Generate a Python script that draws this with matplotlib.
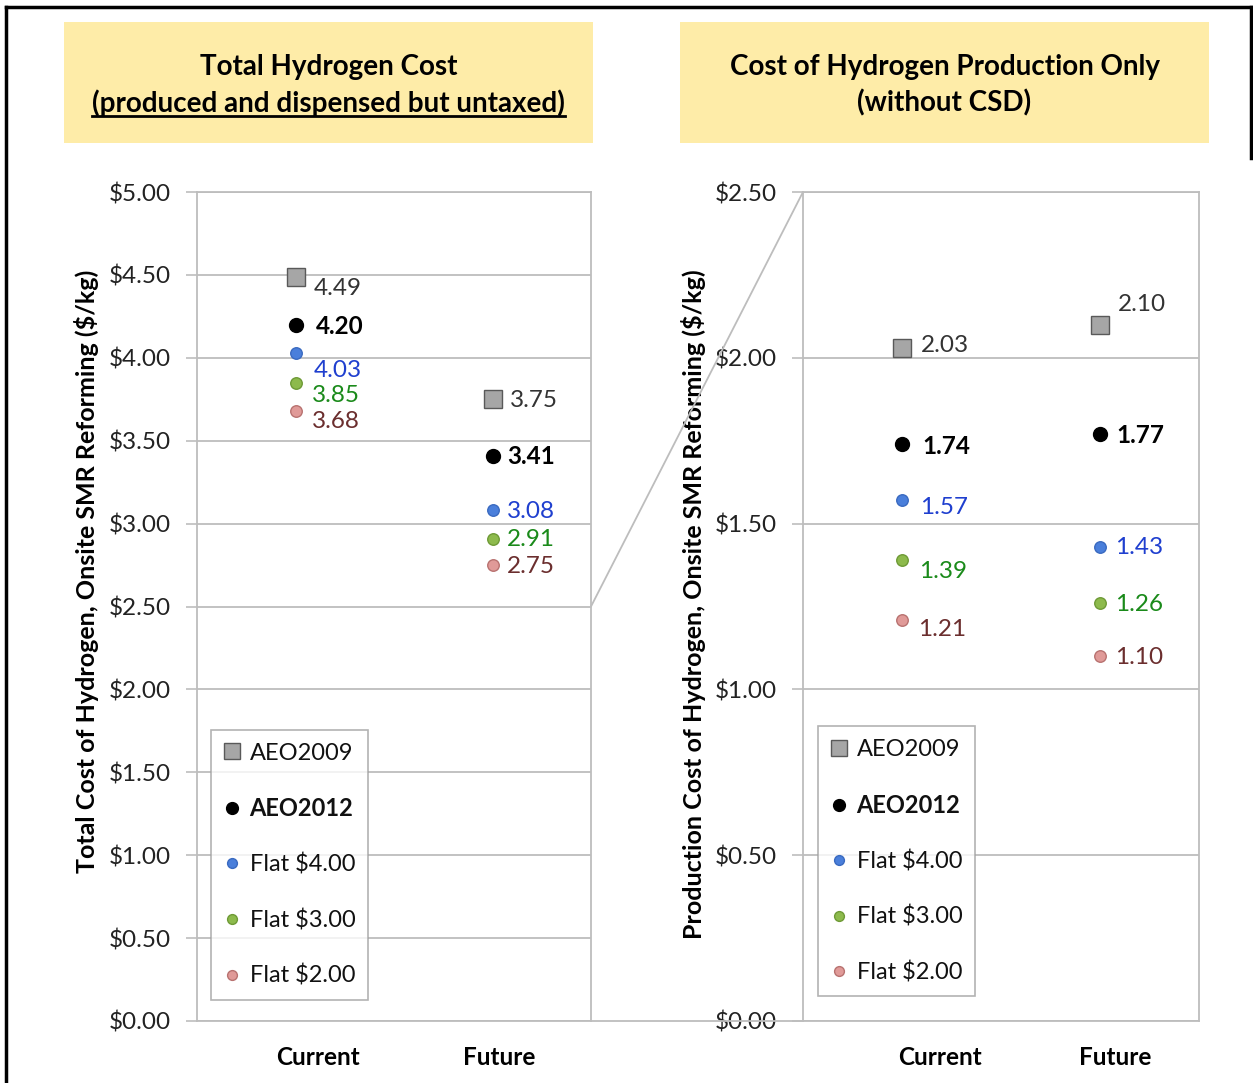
import matplotlib
matplotlib.use('Agg')
from matplotlib import pyplot as plt
from matplotlib.patches import Rectangle, ConnectionPatch
from matplotlib.lines import Line2D

plt.rcParams['font.family'] = ['Lato', 'DejaVu Sans']

# ---- data ----
categories = ['Current', 'Future']
series = ['AEO2009', 'AEO2012', 'Flat $4.00', 'Flat $3.00', 'Flat $2.00']

total_aeo2009 = [4.49, 3.75]
total_aeo2012 = [4.20, 3.41]
total_flat4 = [4.03, 3.08]
total_flat3 = [3.85, 2.91]
total_flat2 = [3.68, 2.75]

prod_aeo2009 = [2.03, 2.10]
prod_aeo2012 = [1.74, 1.77]
prod_flat4 = [1.57, 1.43]
prod_flat3 = [1.39, 1.26]
prod_flat2 = [1.21, 1.10]

total_values = [total_aeo2009, total_aeo2012, total_flat4, total_flat3, total_flat2]
prod_values = [prod_aeo2009, prod_aeo2012, prod_flat4, prod_flat3, prod_flat2]

# ---- styles ----
markers = ['s', 'o', 'o', 'o', 'o']
msizes = [13, 10, 8.3, 8.3, 8.3]
face_colors = ['#A6A6A6', '#000000', '#4A7FDB', '#8DBA4C', '#E09A98']
edge_colors = ['#595959', '#000000', '#3A6AC0', '#6E9A36', '#B87270']
label_colors = ['#333333', '#000000', '#1F3FCF', '#1A8A1A', '#6B2E2E']
label_weights = ['normal', 'bold', 'normal', 'normal', 'normal']
grid_color = '#BDBDBD'

# label offsets in pixels (dx, dy) per series per category
total_offsets = [[(18, -12), (17, -1)], [(20, -2), (15, -1)], [(18, -18), (14, -1)],
                 [(16, -13), (14, -1)], [(16, -11), (14, -1)]]
prod_offsets = [[(19, 2), (18, 20)], [(20, -2), (16, -1)], [(18, -7), (15, -1)],
                [(17, -11), (15, -1)], [(16, -10), (15, -1)]]

W, H = 1253, 1083
fig = plt.figure(figsize=(W / 100, H / 100), dpi=100)

# outer frame
fig.add_artist(Line2D([6 / W, 1], [1 - 7 / H, 1 - 7 / H], color='black', lw=2.5))
fig.add_artist(Line2D([6 / W, 6 / W], [0, 1 - 7 / H], color='black', lw=2.5))
fig.add_artist(Line2D([1251 / W, 1251 / W], [1 - 7 / H, 1 - 158 / H], color='black', lw=2.5))


def title_box(x0, x1, line1, line2, underline):
    fig.add_artist(Rectangle((x0 / W, 1 - 143 / H), (x1 - x0) / W, 121 / H,
                             transform=fig.transFigure, facecolor='#FEECA8', edgecolor='none'))
    cx = (x0 + x1) / 2 / W
    fig.text(cx, 1 - 67 / H, line1, ha='center', va='center', fontsize=20, fontweight='bold')
    t = fig.text(cx, 1 - 103 / H, line2, ha='center', va='center', fontsize=20, fontweight='bold')
    if underline:
        fig.canvas.draw()
        bb = t.get_window_extent()
        y = bb.y0 + 1
        fig.add_artist(Line2D([bb.x0 / W, bb.x1 / W], [y / H, y / H], color='black', lw=2))


title_box(64, 593, 'Total Hydrogen Cost', '(produced and dispensed but untaxed)', True)
title_box(680, 1209, 'Cost of Hydrogen Production Only', '(without CSD)', False)


def make_panel(left, width, ymax, values, offsets, ylabel, cat_pos, legend_box, ylabel_xy):
    ax = fig.add_axes([left / W, 62 / H, width / W, 829 / H])
    ax.set_xlim(0, 2)
    ax.set_ylim(0, ymax)
    ticks = [i * 0.5 for i in range(int(round(ymax / 0.5)) + 1)]
    ax.set_yticks(ticks)
    ax.set_yticklabels(['${:.2f}'.format(t) for t in ticks], fontsize=17.5, color='#222222')
    ax.tick_params(axis='y', length=8, width=1.2, color=grid_color, pad=11)
    ax.set_xticks(cat_pos)
    ax.set_xticklabels(categories, fontsize=17.5, fontweight='bold')
    ax.tick_params(axis='x', length=0, pad=18)
    ax.grid(axis='y', color=grid_color, lw=1.3)
    ax.set_axisbelow(True)
    for s in ax.spines.values():
        s.set_color(grid_color)
        s.set_linewidth(1.3)

    xs = [0.5, 1.5]
    handles = []
    for i, vals in enumerate(values):
        h, = ax.plot(xs, vals, linestyle='none', marker=markers[i], markersize=msizes[i],
                     markerfacecolor=face_colors[i], markeredgecolor=edge_colors[i],
                     markeredgewidth=1, label=series[i], zorder=3)
        handles.append(h)
        for j, v in enumerate(vals):
            ax.annotate('{:.2f}'.format(v), (xs[j], v), xytext=offsets[i][j],
                        textcoords='offset pixels', ha='left', va='center', fontsize=17.5,
                        color=label_colors[i], fontweight=label_weights[i], zorder=4)

    leg = ax.legend(handles=handles, loc='center', bbox_to_anchor=legend_box,
                    fontsize=17, frameon=True, fancybox=False, edgecolor='#A0A0A0',
                    labelspacing=1.42, handlelength=0.7, handletextpad=0.4,
                    borderpad=0.55, borderaxespad=0, markerscale=0.85)
    leg.get_frame().set_linewidth(1.2)
    for k, txt in enumerate(leg.get_texts()):
        txt.set_fontweight(label_weights[k])
        txt.set_color('#111111')

    ax.set_ylabel(ylabel, fontsize=18, fontweight='bold')
    ax.yaxis.set_label_coords(*ylabel_xy)
    return ax


axL = make_panel(197, 394, 5.0, total_values, total_offsets,
                 'Total Cost of Hydrogen, Onsite SMR Reforming ($/kg)',
                 [0.614, 1.532], (0.0355, 0.024, 0.398, 0.329), (-0.248, 0.542))
axR = make_panel(803, 396, 2.5, prod_values, prod_offsets,
                 'Production Cost of Hydrogen, Onsite SMR Reforming ($/kg)',
                 [0.69, 1.576], (0.038, 0.028, 0.396, 0.329), (-0.245, 0.503))

# zoom connector lines
for yl, yr in [(2.5, 2.5), (0.0, 0.0)]:
    con = ConnectionPatch(xyA=(2, yl), coordsA=axL.transData, xyB=(0, yr), coordsB=axR.transData,
                          color=grid_color, lw=1.3)
    fig.add_artist(con)

fig.savefig('out.png', dpi=100)
